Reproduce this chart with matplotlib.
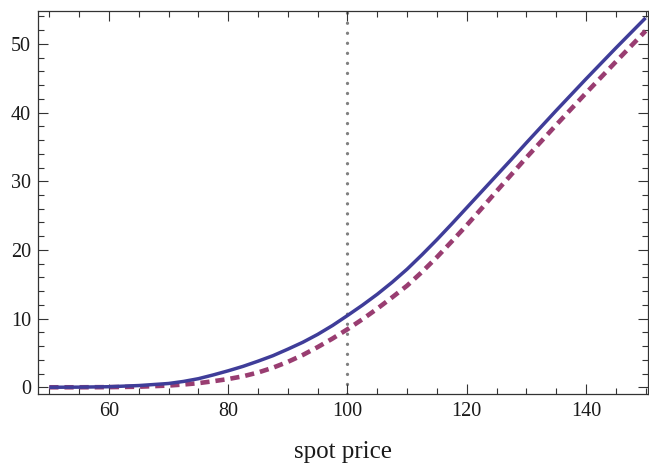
import matplotlib
matplotlib.use("Agg")
import matplotlib.pyplot as plt
from matplotlib.ticker import MultipleLocator

# Data
spot_price = [50, 55, 60, 65, 70, 72.5, 75, 77.5, 80, 82.5, 85, 87.5, 90, 92.5, 95, 97.5,
              100, 102.5, 105, 107.5, 110, 112.5, 115, 117.5, 120, 122.5, 125, 127.5, 130,
              135, 140, 145, 150]
value_solid = [0.0, 0.02, 0.08, 0.25, 0.55, 0.85, 1.25, 1.8, 2.4, 3.05, 3.8, 4.6, 5.55, 6.55, 7.7, 9.0,
               10.45, 11.95, 13.55, 15.3, 17.2, 19.3, 21.5, 23.8, 26.15, 28.5, 30.85, 33.2, 35.6,
               40.3, 44.9, 49.4, 53.8]
value_dashed = [0.0, 0.0, 0.02, 0.08, 0.25, 0.4, 0.6, 0.88, 1.2, 1.6, 2.15, 2.85, 3.7, 4.7, 5.85, 7.1,
                8.45, 9.9, 11.45, 13.1, 14.8, 16.8, 18.95, 21.25, 23.6, 26.05, 28.55, 31.0, 33.45,
                38.2, 42.85, 47.4, 51.9]
strike = 100
x_label = "spot price"

plt.rcParams['font.family'] = ['Liberation Serif', 'DejaVu Serif']

fig = plt.figure(figsize=(6.49, 4.66), dpi=100)
ax = fig.add_axes([38/649, 1-394/466, (648-38)/649, (394-11)/466])

ax.axvline(strike, color='#808080', lw=2.4, linestyle=(0, (0.01, 3.0)),
           dash_capstyle='round', zorder=1)
ax.plot(spot_price, value_solid, color='#3F3D99', lw=2.5, zorder=3,
        solid_capstyle='butt', solid_joinstyle='round')
ax.plot(spot_price, value_dashed, color='#993D71', lw=3.3, linestyle=(0, (2.0, 1.3)),
        dash_capstyle='butt', zorder=2)

ax.set_xlim(48.1, 150.4)
ax.set_ylim(-0.98, 54.8)
ax.xaxis.set_major_locator(MultipleLocator(20))
ax.xaxis.set_minor_locator(MultipleLocator(5))
ax.yaxis.set_major_locator(MultipleLocator(10))
ax.yaxis.set_minor_locator(MultipleLocator(2))

ax.tick_params(which='both', direction='in', top=True, right=True, colors='#333333',
               labelcolor='#1a1a1a', width=0.8, labelsize=14.5)
ax.tick_params(which='major', length=7.5)
ax.tick_params(which='minor', length=4)
ax.tick_params(axis='x', pad=6)
ax.tick_params(axis='y', pad=5)
for s in ax.spines.values():
    s.set_color('#333333')
    s.set_linewidth(0.9)

ax.set_xlabel(x_label, fontsize=18, labelpad=14, color='#1a1a1a')

fig.savefig("out.png", dpi=100)
